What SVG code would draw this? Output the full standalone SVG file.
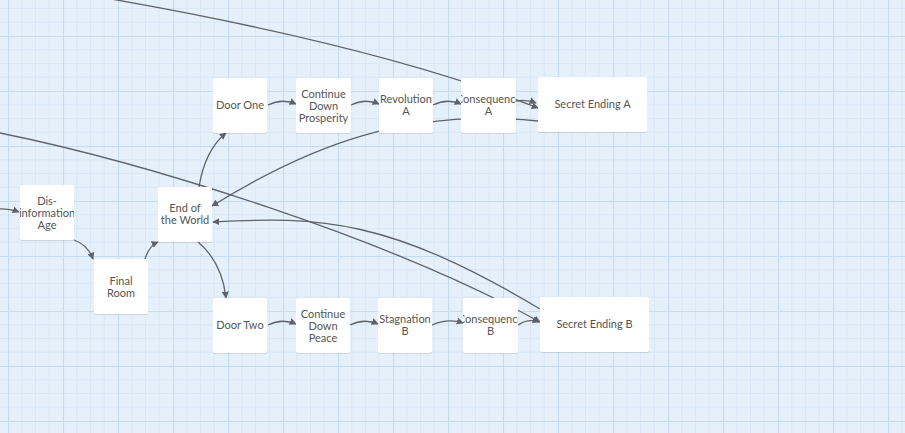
<svg xmlns="http://www.w3.org/2000/svg" width="905" height="433" viewBox="0 0 905 433">
<defs>
<pattern id="grid" patternUnits="userSpaceOnUse" x="8" y="36" width="55" height="55">
<rect width="55" height="55" fill="#e6f0fb"/>
<path d="M13.75 0V55M27.5 0V55M41.25 0V55M0 13.75H55M0 27.5H55M0 41.25H55" stroke="#d9e7f7" stroke-width="1"/>
<path d="M0.5 0V55M0 0.5H55" stroke="#c4dbf2" stroke-width="1.2"/>
</pattern>
<marker id="arr" viewBox="0 0 10 10" refX="9" refY="5" markerWidth="7" markerHeight="7" markerUnits="userSpaceOnUse" orient="auto">
<path d="M0 0L10 5L0 10z" fill="#5f6368"/>
</marker>
<clipPath id="cA"><rect x="461" y="78" width="55" height="55"/></clipPath>
<clipPath id="cB"><rect x="463" y="298" width="55" height="55"/></clipPath>
<clipPath id="cD"><rect x="20" y="185" width="54" height="55"/></clipPath>
</defs>
<style>
.n rect.b{fill:#ffffff;rx:2px}
.n rect.s{fill:#000;opacity:0.10;rx:2px}
.n text{font-family:Lato,"Open Sans","Liberation Sans",sans-serif;font-size:11px;fill:#555;text-anchor:middle}
.c path{fill:none;stroke:#5f6368;stroke-width:1.3;marker-end:url(#arr)}
</style>
<rect width="905" height="433" fill="url(#grid)"/>

<g id="connectors" class="c">
<path d="M88,-5 Q375,44 538,108"/>
<path d="M-5,132 C150,163 390,239.5 540,322"/>
<path d="M-5,209 Q8,208 19,212"/>
<path d="M74,240 Q88,245 93,259"/>
<path d="M145,259 Q149,246 158,242"/>
<path d="M199,187 Q205,150 226,133"/>
<path d="M198,242 Q222,262 226,298"/>
<path d="M268,105 Q282,98 296,104"/>
<path d="M351,105 Q365,98 379,104"/>
<path d="M433,105 Q447,98 461,104"/>
<path d="M516,101 Q526,99 536,103"/>
<path d="M538,121 C408,108 312,144 212,206"/>
<path d="M540,309 C390,219 320,216 213,222"/>
<path d="M268,325 Q282,318 296,324"/>
<path d="M350,325 Q364,318 378,324"/>
<path d="M432,325 Q448,318 463,323"/>
<path d="M518,325 Q528,318 539,322"/>
</g>

<g id="dis-information-age" class="n">
<rect class="s" x="20" y="186" width="54" height="55"/>
<rect class="b" x="20" y="185" width="54" height="55"/>
<g clip-path="url(#cD)"><text x="47" y="205">Dis-</text><text x="47" y="217">information</text><text x="47" y="229">Age</text></g>
</g>
<g id="final-room" class="n">
<rect class="s" x="94" y="260" width="54" height="55"/>
<rect class="b" x="94" y="259" width="54" height="55"/>
<text x="121" y="285">Final</text><text x="121" y="297">Room</text>
</g>
<g id="end-of-the-world" class="n">
<rect class="s" x="158" y="188" width="54" height="55"/>
<rect class="b" x="158" y="187" width="54" height="55"/>
<text x="185" y="212">End of</text><text x="185" y="224">the World</text>
</g>
<g id="door-one" class="n">
<rect class="s" x="213" y="79" width="54" height="55"/>
<rect class="b" x="213" y="78" width="54" height="55"/>
<text x="240" y="109">Door One</text>
</g>
<g id="continue-down-prosperity" class="n">
<rect class="s" x="296" y="79" width="55" height="55"/>
<rect class="b" x="296" y="78" width="55" height="55"/>
<text x="323.5" y="98">Continue</text><text x="323.5" y="110">Down</text><text x="323.5" y="122">Prosperity</text>
</g>
<g id="revolution-a" class="n">
<rect class="s" x="379" y="79" width="54" height="55"/>
<rect class="b" x="379" y="78" width="54" height="55"/>
<text x="406" y="103">Revolution</text><text x="406" y="115">A</text>
</g>
<g id="consequence-a" class="n">
<rect class="s" x="461" y="79" width="55" height="55"/>
<rect class="b" x="461" y="78" width="55" height="55"/>
<g clip-path="url(#cA)"><text x="488.5" y="103">Consequence</text><text x="488.5" y="115">A</text></g>
</g>
<g id="secret-ending-a" class="n">
<rect class="s" x="538" y="78" width="109" height="55"/>
<rect class="b" x="538" y="77" width="109" height="55"/>
<text x="592.5" y="108">Secret Ending A</text>
</g>
<g id="door-two" class="n">
<rect class="s" x="213" y="299" width="54" height="55"/>
<rect class="b" x="213" y="298" width="54" height="55"/>
<text x="240" y="329">Door Two</text>
</g>
<g id="continue-down-peace" class="n">
<rect class="s" x="296" y="299" width="54" height="55"/>
<rect class="b" x="296" y="298" width="54" height="55"/>
<text x="323" y="318">Continue</text><text x="323" y="330">Down</text><text x="323" y="342">Peace</text>
</g>
<g id="stagnation-b" class="n">
<rect class="s" x="378" y="299" width="54" height="55"/>
<rect class="b" x="378" y="298" width="54" height="55"/>
<text x="405" y="323">Stagnation</text><text x="405" y="335">B</text>
</g>
<g id="consequence-b" class="n">
<rect class="s" x="463" y="299" width="55" height="55"/>
<rect class="b" x="463" y="298" width="55" height="55"/>
<g clip-path="url(#cB)"><text x="490.5" y="323">Consequence</text><text x="490.5" y="335">B</text></g>
</g>
<g id="secret-ending-b" class="n">
<rect class="s" x="540" y="298" width="109" height="55"/>
<rect class="b" x="540" y="297" width="109" height="55"/>
<text x="594.5" y="328">Secret Ending B</text>
</g>
</svg>
